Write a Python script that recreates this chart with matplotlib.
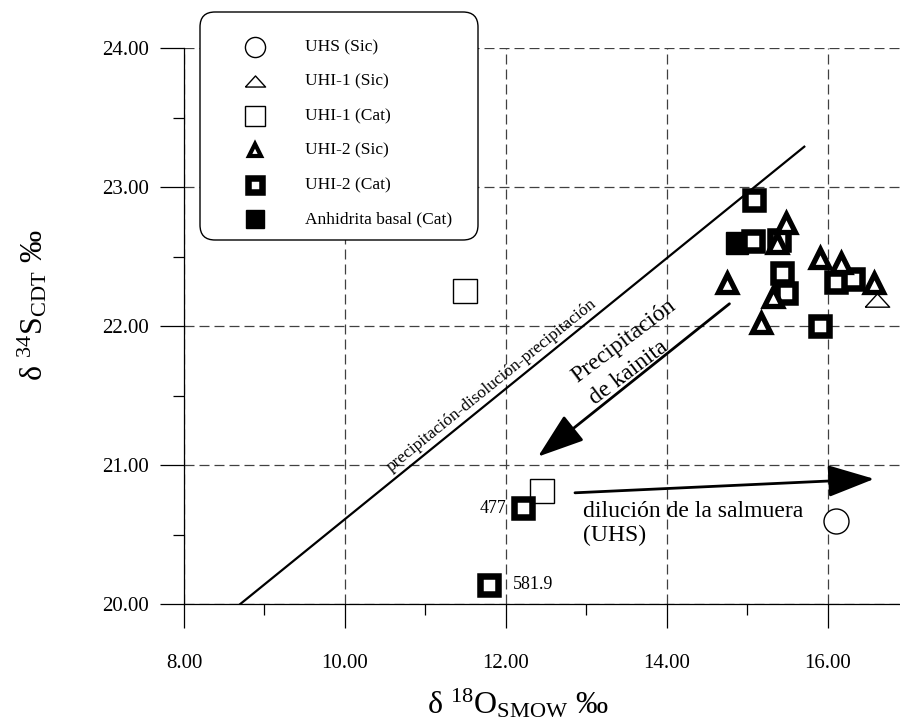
import matplotlib
matplotlib.use("Agg")
import matplotlib.pyplot as plt
from matplotlib.lines import Line2D
from matplotlib.patches import FancyBboxPatch
from matplotlib.transforms import IdentityTransform
from matplotlib.ticker import FormatStrFormatter

plt.rcParams["font.family"] = "Liberation Serif"
plt.rcParams["mathtext.fontset"] = "custom"
plt.rcParams["mathtext.rm"] = "Liberation Serif"
plt.rcParams["mathtext.it"] = "Liberation Serif:italic"

# --- Data (d18O SMOW, d34S CDT) ---
uhs_sic_x = [16.11]
uhs_sic_y = [20.60]

uhi1_sic_x = [16.61]
uhi1_sic_y = [22.19]

uhi1_cat_x = [11.49, 12.45]
uhi1_cat_y = [22.25, 20.81]

uhi2_sic_x = [15.48, 15.37, 14.75, 15.32, 15.17, 15.91, 16.17, 16.58]
uhi2_sic_y = [22.74, 22.60, 22.31, 22.21, 22.02, 22.49, 22.45, 22.31]

uhi2_cat_x = [15.08, 15.07, 15.40, 15.43, 15.48, 15.91, 16.11, 16.31, 12.21, 11.79]
uhi2_cat_y = [22.91, 22.61, 22.62, 22.38, 22.24, 22.00, 22.32, 22.34, 20.69, 20.14]

anh_x = [14.88]
anh_y = [22.60]

# depth labels of two UHI-2 (Cat) samples
depth_labels = ["477", "581.9"]
depth_x = [12.21, 11.79]
depth_y = [20.69, 20.14]

# precipitation-dissolution line
trend_x = [8.70, 15.71]
trend_y = [20.00, 23.29]

# arrows (start -> end)
kainita_start = (14.78, 22.16)
kainita_end = (12.40, 21.06)
dilucion_start = (12.86, 20.80)
dilucion_end = (16.58, 20.90)

x_major = [8, 10, 12, 14, 16]
x_minor = [9, 11, 13, 15]
y_major = [20, 21, 22, 23, 24]
y_minor = [20.5, 21.5, 22.5, 23.5]

# flattened triangle marker for UHI-1 (Sic)
flat_tri = [(-1, -0.55), (1, -0.55), (0, 0.55), (-1, -0.55)]

series = [
    ("UHS (Sic)", uhs_sic_x, uhs_sic_y,
     dict(marker="o", mfc="white", mec="black", mew=1.0, ms=18), dict(ms=14.5), 3),
    ("UHI-1 (Sic)", uhi1_sic_x, uhi1_sic_y,
     dict(marker=flat_tri, mfc="white", mec="black", mew=1.0, ms=17.5), dict(ms=14.5), 3),
    ("UHI-1 (Cat)", uhi1_cat_x, uhi1_cat_y,
     dict(marker="s", mfc="white", mec="black", mew=1.0, ms=17), dict(ms=14), 3),
    ("UHI-2 (Sic)", uhi2_sic_x, uhi2_sic_y,
     dict(marker="^", mfc="white", mec="black", mew=3.8, ms=13.5), dict(ms=8.5, mew=3), 6),
    ("UHI-2 (Cat)", uhi2_cat_x, uhi2_cat_y,
     dict(marker="s", mfc="white", mec="black", mew=4.7, ms=12.6), dict(ms=9.7, mew=4.7), 5),
    ("Anhidrita basal (Cat)", anh_x, anh_y,
     dict(marker="s", mfc="black", mec="black", mew=1.0, ms=16.5), dict(ms=13.5), 4),
]

W, H = 900, 719
fig = plt.figure(figsize=(W / 100, H / 100), dpi=100)
ax = fig.add_axes([184 / W, 115 / H, 716 / W, 556 / H])

# --- Points ---
for label, xs, ys, style, _, z in series:
    ax.plot(xs, ys, ls="none", zorder=z, **style)

for txt, x, y, dx in zip(depth_labels, depth_x, depth_y, [-11.5, 17]):
    ax.annotate(txt, (x, y), xytext=(dx, 0), textcoords="offset points",
                ha="right" if dx < 0 else "left", va="center", fontsize=13)

# --- Lines / arrows ---
ax.plot(trend_x, trend_y, color="black", lw=1.6, zorder=2)
ax.text(10.58, 20.95, "precipitación-disolución-precipitación", rotation=39,
        rotation_mode="anchor", ha="left", va="baseline", fontsize=12.5)

arrow_style = "-|>,head_length=1.45,head_width=0.5"
ax.annotate("", xy=kainita_end, xytext=kainita_start,
            arrowprops=dict(arrowstyle=arrow_style, color="black", lw=2,
                            mutation_scale=20, shrinkA=0, shrinkB=0))
ax.annotate("", xy=dilucion_end, xytext=dilucion_start,
            arrowprops=dict(arrowstyle=arrow_style, color="black", lw=2,
                            mutation_scale=20, shrinkA=0, shrinkB=0))

ax.text(12.89, 21.59, "Precipitación", rotation=37, rotation_mode="anchor",
        ha="left", va="baseline", fontsize=17)
ax.text(13.11, 21.43, "de kainita", rotation=37, rotation_mode="anchor",
        ha="left", va="baseline", fontsize=17)
ax.text(12.96, 20.74, "dilución de la salmuera\n(UHS)", ha="left", va="top",
        fontsize=17, linespacing=1.2)

# --- Axes ---
ax.set_xlim(8, 16.9)
ax.set_ylim(20, 24)
ax.set_xticks(x_major)
ax.set_xticks(x_minor, minor=True)
ax.set_yticks(y_major)
ax.set_yticks(y_minor, minor=True)
ax.xaxis.set_major_formatter(FormatStrFormatter("%.2f"))
ax.yaxis.set_major_formatter(FormatStrFormatter("%.2f"))
ax.tick_params(which="both", direction="out", width=0.9, labelsize=15)
ax.tick_params(which="major", length=17)
ax.tick_params(which="minor", length=8)
ax.tick_params(axis="x", pad=19)
ax.tick_params(axis="y", pad=8)
for side in ["top", "right"]:
    ax.spines[side].set_visible(False)
for side in ["left", "bottom"]:
    ax.spines[side].set_linewidth(0.9)
ax.grid(True, which="major", ls=(0, (8, 4)), lw=0.9, color="0.25")
ax.set_axisbelow(True)

fig.text(518 / W, 1 - 714 / H, r"δ $^{18}\mathrm{O}_{\mathrm{SMOW}}$ ‰",
         ha="center", va="baseline", fontsize=23)
fig.text(33 / W, 1 - 305 / H, r"δ $^{34}\mathrm{S}_{\mathrm{CDT}}$ ‰",
         ha="center", va="center", rotation=90, fontsize=23)

# --- Legend box (drawn by hand, rounded, sits above the axes) ---
box = FancyBboxPatch((200, H - 240), 278, 228, boxstyle="round,pad=0,rounding_size=15",
                     transform=IdentityTransform(), fc="white", ec="black", lw=1.0, zorder=10)
fig.add_artist(box)
row_y = [47, 81, 116, 150, 185, 219]
for (label, _, _, style, leg, _), py in zip(series, row_y):
    st = dict(style)
    st.update(leg)
    fig.add_artist(Line2D([255], [H - py], transform=IdentityTransform(), ls="none",
                          zorder=11, **st))
    fig.text(305 / W, 1 - py / H, label, ha="left", va="center", fontsize=12.5, zorder=11)

fig.savefig("out.png", dpi=100)
